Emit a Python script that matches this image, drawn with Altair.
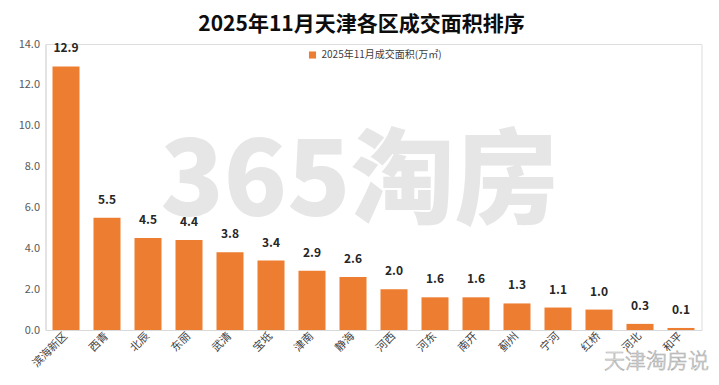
import altair as alt
import pandas as pd

districts = ["滨海新区", "西青", "北辰", "东丽", "武清", "宝坻", "津南", "静海",
             "河西", "河东", "南开", "蓟州", "宁河", "红桥", "河北", "和平"]
areas = [12.9, 5.5, 4.5, 4.4, 3.8, 3.4, 2.9, 2.6, 2.0, 1.6, 1.6, 1.3, 1.1, 1.0, 0.3, 0.1]
series_name = "2025年11月成交面积(万㎡)"
title_text = "2025年11月天津各区成交面积排序"
watermark_text = ["365淘房"]
signature_text = ["天津淘房说"]

df = pd.DataFrame({"district": districts, "area": areas, "series": [series_name] * len(districts)})
wm_df = pd.DataFrame({"t": watermark_text})
sig_df = pd.DataFrame({"t": signature_text})

FONT = "Noto Sans CJK SC"
ORANGE = "#ED7D31"

x_enc = alt.X("district:N", sort=districts, title=None,
              scale=alt.Scale(paddingInner=0.34, paddingOuter=0.17),
              axis=alt.Axis(labelAngle=-45, labelAlign="right", labelBaseline="middle",
                            labelPadding=4, labelFontSize=11, labelColor="#404040",
                            labelFont=FONT, ticks=False, domainColor="#d9d9d9"))
y_enc = alt.Y("area:Q", title=None,
              scale=alt.Scale(domain=[0, 14]),
              axis=alt.Axis(values=[0, 2, 4, 6, 8, 10, 12, 14], format=".1f", grid=False,
                            ticks=False, labelPadding=6, labelFontSize=11, labelColor="#595959",
                            labelFont=FONT, domainColor="#d9d9d9"))

watermark = alt.Chart(wm_df).mark_text(font=FONT, fontSize=104, fontWeight=900,
                                       color="#e6e6e6", align="center",
                                       baseline="middle").encode(
    text="t:N", x=alt.value(314), y=alt.value(141))

bars = alt.Chart(df).mark_bar(size=27).encode(
    x=x_enc, y=y_enc,
    color=alt.Color("series:N", scale=alt.Scale(range=[ORANGE]),
                    legend=alt.Legend(title=None, orient="none", legendX=262, legendY=6,
                                      symbolType="square", symbolSize=50, labelFontSize=10,
                                      labelColor="#404040", labelFont=FONT, symbolStrokeWidth=0)),
)

labels = alt.Chart(df).mark_text(dy=-11, fontSize=12, fontWeight="bold", color="#262626", font=FONT,
                                 baseline="bottom").encode(
    x=alt.X("district:N", sort=districts), y="area:Q", text=alt.Text("area:Q", format=".1f"))

signature = alt.Chart(sig_df).mark_text(font=FONT, fontSize=21, fontWeight=300, color="white",
                                        stroke="#b0b0b0", strokeWidth=0.7, align="center",
                                        baseline="middle").encode(
    text="t:N", x=alt.value(611), y=alt.value(318))

chart = alt.layer(watermark, bars, labels, signature).properties(
    width=656, height=286,
    title=alt.TitleParams(title_text, font=FONT, fontSize=21, fontWeight="bold", color="#0d0d0d",
                          anchor="middle", dx=-12, offset=3),
    padding={"left": 37.5, "top": 36, "right": 8, "bottom": 46},
    autosize=alt.AutoSizeParams(type="none"),
).configure_view(stroke=None).configure(background="white")

chart.save("out.html", embed_options={"renderer": "svg", "actions": False})
